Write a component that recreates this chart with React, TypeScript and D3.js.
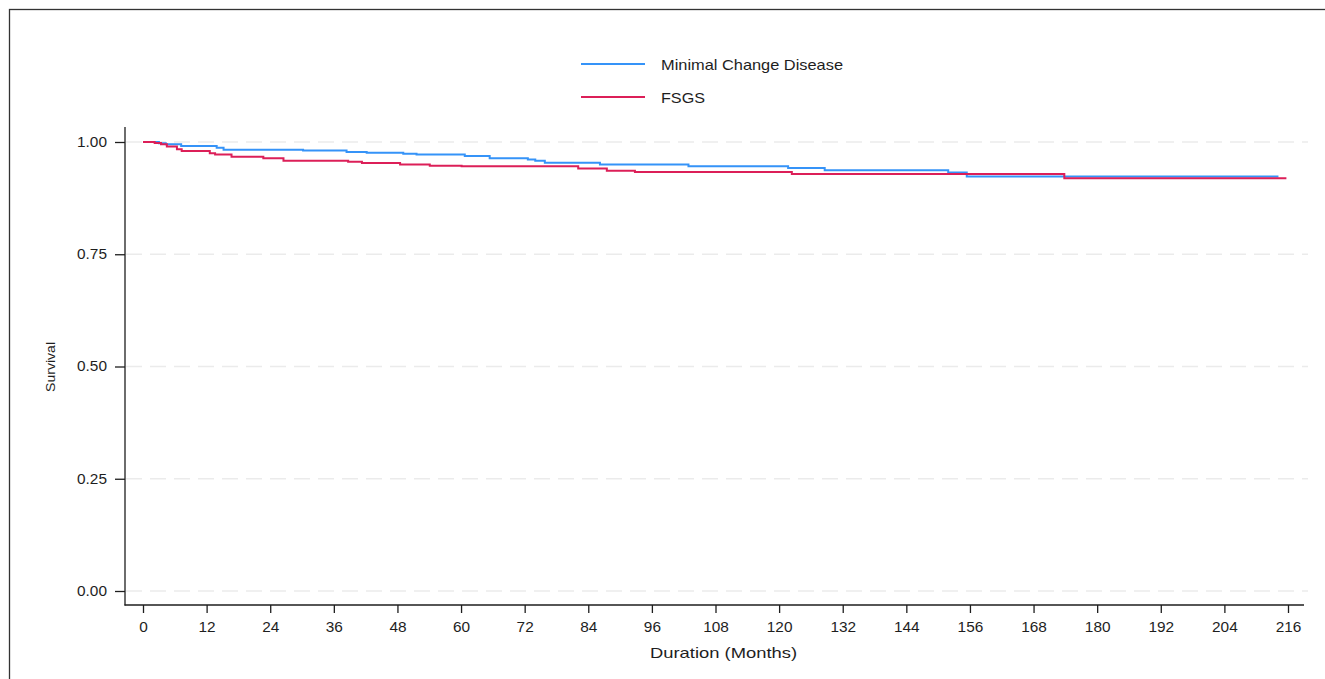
import React, { useEffect, useRef } from 'react';
import * as d3 from 'd3';

// Kaplan-Meier step points (month at which the step starts, survival after it)
const mcdMonths = [0, 3.0, 4.3, 7.2, 13.9, 15.2, 30.2, 38.4, 42.2, 49.1, 51.6, 60.7, 65.4, 72.6, 74.0, 75.8, 86.2, 102.9, 121.7, 128.6, 151.9, 155.4, 214.2];
const mcdSurvival = [1.0, 0.997, 0.995, 0.991, 0.987, 0.983, 0.981, 0.978, 0.976, 0.974, 0.972, 0.969, 0.964, 0.961, 0.958, 0.954, 0.95, 0.946, 0.942, 0.937, 0.932, 0.923, 0.923];

const fsgsMonths = [0, 2.2, 3.4, 4.5, 6.4, 7.3, 12.6, 13.6, 16.7, 22.7, 26.5, 38.7, 41.3, 48.5, 54.1, 60.1, 82.1, 87.5, 92.8, 122.4, 173.8, 215.7];
const fsgsSurvival = [1.0, 0.998, 0.995, 0.99, 0.984, 0.98, 0.975, 0.972, 0.967, 0.964, 0.958, 0.956, 0.953, 0.95, 0.947, 0.946, 0.941, 0.936, 0.933, 0.929, 0.919, 0.919];

const seriesNames = ['Minimal Change Disease', 'FSGS'];
const seriesColors = ['#3593f8', '#dc1f58'];

const xTicks = d3.range(0, 217, 12);
const yTicks = [0, 0.25, 0.5, 0.75, 1.0];

const App = () => {
  const ref = useRef<SVGSVGElement>(null);
  const width = 1325;
  const height = 679;

  useEffect(() => {
    const svg = d3.select(ref.current);
    svg.selectAll('*').remove();

    const font = 'Liberation Sans, Arial, sans-serif';
    const ink = '#1e1e1e';

    const x = d3.scaleLinear().domain([0, 216]).range([143, 1288]);
    const y = d3.scaleLinear().domain([0, 1]).range([591, 142]);

    // outer frame
    svg.append('rect')
      .attr('x', 9.5).attr('y', 9.5)
      .attr('width', 1400).attr('height', 800)
      .attr('fill', 'white')
      .attr('stroke', '#333').attr('stroke-width', 1.3);

    // dashed gridlines
    svg.append('g')
      .selectAll('line')
      .data(yTicks)
      .join('line')
      .attr('x1', 126).attr('x2', 1308)
      .attr('y1', d => y(d)).attr('y2', d => y(d))
      .attr('stroke', '#ebebeb')
      .attr('stroke-width', 1.5)
      .attr('stroke-dasharray', '16 8');

    // axes
    const yAxis = svg.append('g')
      .attr('transform', 'translate(125,0)')
      .call(d3.axisLeft(y).tickValues(yTicks).tickFormat(d3.format('.2f')).tickSize(10).tickSizeOuter(0));
    yAxis.select('.domain').remove();
    yAxis.append('line')
      .attr('x1', 0).attr('x2', 0).attr('y1', 127).attr('y2', 605.5)
      .attr('stroke', ink).attr('stroke-width', 1.3);

    const xAxis = svg.append('g')
      .attr('transform', 'translate(0,605)')
      .call(d3.axisBottom(x).tickValues(xTicks).tickSize(8).tickPadding(9));
    xAxis.select('.domain').remove();
    xAxis.append('line')
      .attr('x1', 124.5).attr('x2', 1304).attr('y1', 0).attr('y2', 0)
      .attr('stroke', ink).attr('stroke-width', 1.3);

    [yAxis, xAxis].forEach(ax => {
      ax.selectAll('.tick line').attr('stroke', ink).attr('stroke-width', 1.3);
      ax.selectAll('.tick text')
        .attr('fill', ink)
        .attr('transform', 'scale(1.1,1)')
        .style('font-family', font)
        .style('font-size', '14px');
    });
    yAxis.selectAll('.tick text').attr('x', -16.4);

    // axis titles
    svg.append('text')
      .attr('x', 650).attr('y', 658)
      .attr('textLength', 147)
      .attr('lengthAdjust', 'spacingAndGlyphs')
      .style('font-family', font).style('font-size', '15px')
      .attr('fill', ink)
      .text('Duration (Months)');

    svg.append('text')
      .attr('transform', 'translate(55,392) rotate(-90)')
      .attr('textLength', 50)
      .attr('lengthAdjust', 'spacingAndGlyphs')
      .style('font-family', font).style('font-size', '13.5px')
      .attr('fill', ink)
      .text('Survival');

    // survival curves
    const line = d3.line<[number, number]>()
      .x(d => x(d[0]))
      .y(d => y(d[1]))
      .curve(d3.curveStepAfter);

    const series: [number, number][][] = [
      mcdMonths.map((m, i) => [m, mcdSurvival[i]]),
      fsgsMonths.map((m, i) => [m, fsgsSurvival[i]]),
    ];

    series.forEach((pts, i) => {
      svg.append('path')
        .datum(pts)
        .attr('d', line)
        .attr('fill', 'none')
        .attr('stroke', seriesColors[i])
        .attr('stroke-width', 2);
    });

    // legend
    const legendWidths = [182, 44];
    const legend = svg.append('g');
    seriesNames.forEach((name, i) => {
      const ly = 64 + i * 33;
      legend.append('line')
        .attr('x1', 581).attr('x2', 645)
        .attr('y1', ly).attr('y2', ly)
        .attr('stroke', seriesColors[i])
        .attr('stroke-width', 2);
      legend.append('text')
        .attr('x', 661).attr('y', ly)
        .attr('dy', '0.38em')
        .attr('textLength', legendWidths[i])
        .attr('lengthAdjust', 'spacingAndGlyphs')
        .style('font-family', font).style('font-size', '15px')
        .attr('fill', ink)
        .text(name);
    });
  }, []);

  return (
    <svg
      ref={ref}
      width={width}
      height={height}
      style={{ position: 'absolute', left: 0, top: 0, background: 'white' }}
    />
  );
};

export default App;
